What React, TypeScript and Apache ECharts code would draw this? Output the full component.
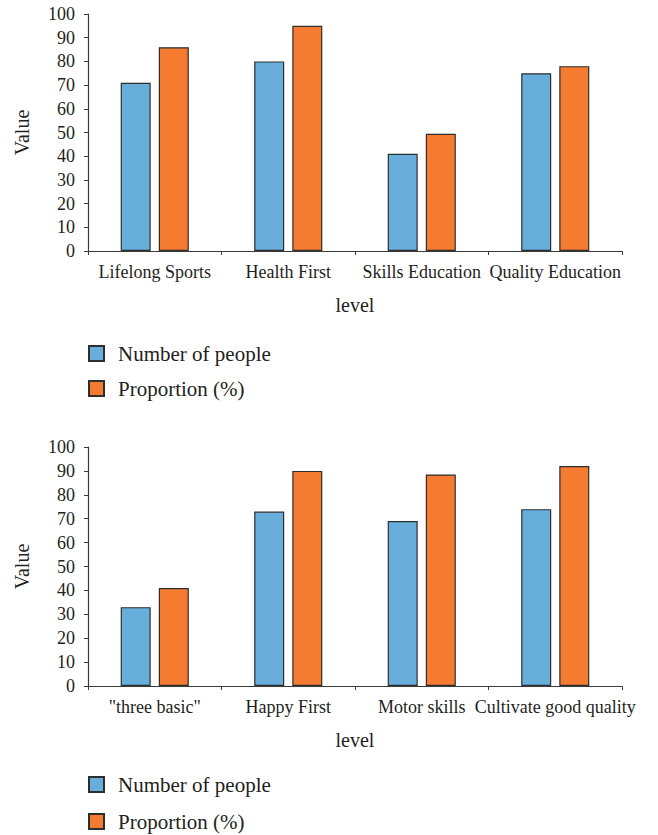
import React, { useEffect, useRef } from "react";
import * as echarts from "echarts";

const topCategories = ["Lifelong Sports", "Health First", "Skills Education", "Quality Education"];
const topPeople = [71, 80, 41, 75];
const topProportion = [86, 95, 49.5, 78];

const bottomCategories = ['"three basic"', "Happy First", "Motor skills", "Cultivate good quality"];
const bottomPeople = [33, 73, 69, 74];
const bottomProportion = [41, 90, 88.5, 92];

const seriesNames = ["Number of people", "Proportion (%)"];
const yTicks = { min: 0, max: 100, interval: 10 };

const FONT = "Liberation Serif";
const INK = "#231f20";
const AXIS = "#3a3a3a";
const BLUE = "#67aedb";
const ORANGE = "#f47b30";

function xAxisFor(gridIndex: number, data: string[]) {
  return {
    type: "category",
    gridIndex,
    data,
    name: "level",
    nameLocation: "middle",
    nameGap: 44,
    nameTextStyle: { fontFamily: FONT, fontSize: 20, color: INK, verticalAlign: "top" },
    axisLine: { lineStyle: { color: AXIS, width: 1.2 } },
    axisTick: { show: true, length: 4, lineStyle: { color: AXIS } },
    axisLabel: { interval: 0, margin: 12, fontFamily: FONT, fontSize: 18, color: INK },
  };
}

function yAxisFor(gridIndex: number) {
  return {
    type: "value",
    gridIndex,
    min: yTicks.min,
    max: yTicks.max,
    interval: yTicks.interval,
    name: "Value",
    nameLocation: "middle",
    nameGap: 56,
    nameRotate: 90,
    nameTextStyle: { fontFamily: FONT, fontSize: 20, color: INK },
    splitLine: { show: false },
    axisLine: { show: true, lineStyle: { color: AXIS, width: 1.2 } },
    axisTick: { show: true, length: 4, lineStyle: { color: AXIS } },
    axisLabel: { margin: 13, fontFamily: FONT, fontSize: 18, color: INK },
  };
}

function barSeries(name: string, idx: number, data: number[], color: string) {
  return {
    type: "bar",
    name,
    xAxisIndex: idx,
    yAxisIndex: idx,
    data,
    barWidth: 30,
    barGap: "27%",
    itemStyle: { color, borderColor: "#2e2e2e", borderWidth: 1.2 },
  };
}

function legendAt(top: number, gap: number) {
  return {
    orient: "vertical",
    left: 88,
    top,
    height: 80,
    padding: 0,
    itemWidth: 15,
    itemHeight: 15,
    itemGap: gap,
    icon: "rect",
    data: seriesNames,
    selectedMode: false,
    textStyle: {
      fontFamily: FONT,
      fontSize: 21,
      lineHeight: 21,
      color: INK,
      padding: [0, 0, 0, 9],
    },
  };
}

export default function App() {
  const ref = useRef<HTMLDivElement>(null);

  useEffect(() => {
    if (!ref.current) return;
    const chart = echarts.init(ref.current, undefined, { renderer: "svg" });
    chart.setOption({
      animation: false,
      backgroundColor: "#ffffff",
      textStyle: { fontFamily: FONT },
      grid: [
        { left: 88, right: 36, top: 14, height: 237 },
        { left: 88, right: 36, top: 447, height: 239 },
      ],
      legend: [legendAt(343, 14), legendAt(774, 16)],
      xAxis: [xAxisFor(0, topCategories), xAxisFor(1, bottomCategories)],
      yAxis: [yAxisFor(0), yAxisFor(1)],
      series: [
        barSeries(seriesNames[0], 0, topPeople, BLUE),
        barSeries(seriesNames[1], 0, topProportion, ORANGE),
        barSeries(seriesNames[0], 1, bottomPeople, BLUE),
        barSeries(seriesNames[1], 1, bottomProportion, ORANGE),
      ],
    });
    return () => chart.dispose();
  }, []);

  return (
    <div
      ref={ref}
      style={{ position: "fixed", left: 0, top: 0, width: 658, height: 835, background: "#fff" }}
    />
  );
}
